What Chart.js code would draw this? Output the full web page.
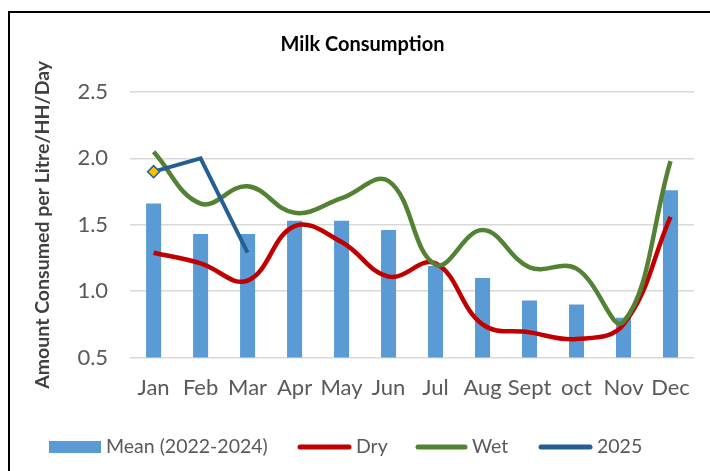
<!DOCTYPE html>
<html>
<head>
<meta charset="utf-8">
<script src="https://cdn.jsdelivr.net/npm/chart.js@4/dist/chart.umd.min.js"></script>
<style>
  html, body { margin: 0; padding: 0; background: #fff; }
  #wrap { position: relative; width: 710px; height: 471px; overflow: hidden; }
  #frame { position: absolute; left: 8px; top: 11px; width: 740px; height: 500px; border: 2px solid #000; }
  canvas { position: absolute; left: 0; top: 0; }
</style>
</head>
<body>
<div id="wrap">
  <div id="frame"></div>
  <canvas id="chart" width="710" height="471"></canvas>
</div>
<script>
const months = ['Jan', 'Feb', 'Mar', 'Apr', 'May', 'Jun', 'Jul', 'Aug', 'Sept', 'oct', 'Nov', 'Dec'];
const meanValues = [1.66, 1.43, 1.43, 1.53, 1.53, 1.46, 1.19, 1.10, 0.93, 0.90, 0.80, 1.76];
const dryValues = [1.29, 1.21, 1.08, 1.49, 1.37, 1.11, 1.21, 0.75, 0.69, 0.64, 0.75, 1.56];
const wetValues = [2.05, 1.66, 1.79, 1.59, 1.70, 1.83, 1.20, 1.46, 1.18, 1.17, 0.77, 1.98];
const values2025 = [1.90, 2.00, 1.29];
const yTicks = [0.5, 1.0, 1.5, 2.0, 2.5];

const FONT = 'Lato, "Open Sans", sans-serif';
const GREY = '#595959';

// legend drawn by hand so line entries look like Excel's short thick strokes
const legendItems = [
  { text: 'Mean (2022-2024)', color: '#5B9BD5', kind: 'box', x0: 49, x1: 101 },
  { text: 'Dry', color: '#C00000', kind: 'line', x0: 298, x1: 351 },
  { text: 'Wet', color: '#548235', kind: 'line', x0: 416, x1: 467 },
  { text: '2025', color: '#255E91', kind: 'line', x0: 539, x1: 592 }
];

const excelLegend = {
  id: 'excelLegend',
  afterDraw(chart) {
    const ctx = chart.ctx;
    const y = 447;
    ctx.save();
    ctx.font = '19.5px ' + FONT;
    ctx.textBaseline = 'middle';
    legendItems.forEach(item => {
      if (item.kind === 'box') {
        ctx.fillStyle = item.color;
        ctx.fillRect(item.x0, y - 6, item.x1 - item.x0, 12);
      } else {
        ctx.strokeStyle = item.color;
        ctx.lineWidth = 5;
        ctx.lineCap = 'round';
        ctx.beginPath();
        ctx.moveTo(item.x0 + 2, y);
        ctx.lineTo(item.x1 - 2, y);
        ctx.stroke();
      }
      ctx.fillStyle = GREY;
      ctx.fillText(item.text, item.x1 + 5, y);
    });
    ctx.restore();
  }
};

new Chart(document.getElementById('chart'), {
  type: 'bar',
  data: {
    labels: months,
    datasets: [
      {
        type: 'line',
        label: '2025',
        data: values2025,
        borderColor: '#255E91',
        borderWidth: 4,
        tension: 0,
        pointStyle: 'rectRot',
        pointRadius: [6, 0, 0],
        pointBackgroundColor: '#FFC000',
        pointBorderColor: '#255E91',
        pointBorderWidth: 1.5,
        order: 1
      },
      {
        type: 'line',
        label: 'Wet',
        data: wetValues,
        borderColor: '#548235',
        borderWidth: 4.5,
        tension: 0.4,
        pointRadius: 0,
        order: 2
      },
      {
        type: 'line',
        label: 'Dry',
        data: dryValues,
        borderColor: '#C00000',
        borderWidth: 4.5,
        tension: 0.4,
        pointRadius: 0,
        order: 3
      },
      {
        label: 'Mean (2022-2024)',
        data: meanValues,
        backgroundColor: '#5B9BD5',
        barPercentage: 0.32,
        categoryPercentage: 1,
        order: 4
      }
    ]
  },
  options: {
    responsive: false,
    animation: false,
    layout: { padding: { left: 31, right: 16, top: 0, bottom: 53 } },
    plugins: {
      legend: { display: false },
      tooltip: { enabled: false },
      title: {
        display: true,
        text: 'Milk Consumption',
        color: '#000',
        font: { family: FONT, size: 20, weight: 'bold' },
        padding: { top: 33, bottom: 35 }
      }
    },
    scales: {
      x: {
        grid: { display: false, drawTicks: false },
        border: { display: false },
        ticks: { color: GREY, font: { family: FONT, size: 22 }, padding: 17, maxRotation: 0, autoSkip: false }
      },
      y: {
        min: 0.5,
        max: 2.5,
        afterBuildTicks: axis => { axis.ticks = yTicks.map(v => ({ value: v })); },
        grid: { color: '#D9D9D9', lineWidth: 1.5, drawTicks: false },
        border: { display: false },
        ticks: {
          color: GREY,
          font: { family: FONT, size: 22 },
          padding: 22,
          callback: v => Number(v).toFixed(1)
        },
        title: {
          display: true,
          text: 'Amount Consumed per Litre/HH/Day',
          color: '#404040',
          font: { family: FONT, size: 19.5, weight: 'bold' },
          padding: { top: 0, bottom: 1 }
        }
      }
    }
  },
  plugins: [excelLegend]
});
</script>
</body>
</html>
